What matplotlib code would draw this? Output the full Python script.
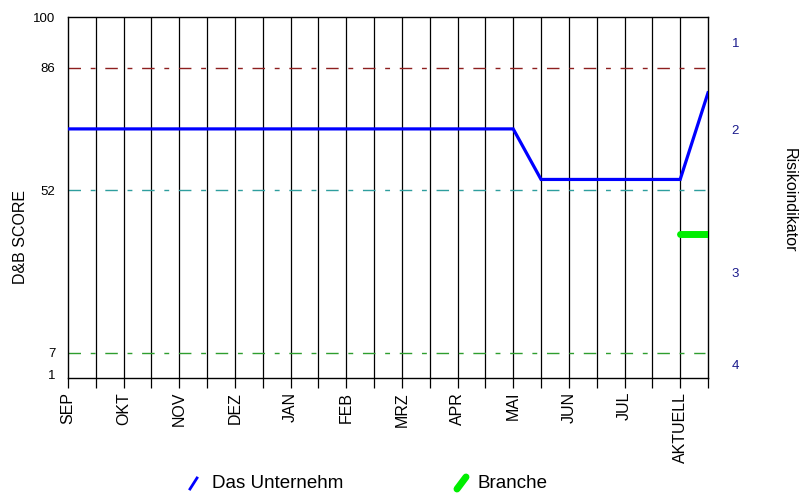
import matplotlib
matplotlib.use("Agg")
import matplotlib.pyplot as plt
from matplotlib.lines import Line2D

plt.rcParams["font.family"] = ["Liberation Sans", "DejaVu Sans"]

# data
months = ["SEP", "OKT", "NOV", "DEZ", "JAN", "FEB", "MRZ", "APR", "MAI", "JUN", "JUL", "AKTUELL"]
company_x = [0, 16, 17, 22, 23]
company_score = [69, 69, 55, 55, 79]
branche_x = [22, 23]
branche_score = [40, 40]
ref_levels = [86, 52, 7]
ref_colors = ["#8e1f1f", "#2e9e9e", "#2e9e2e"]
left_ticks = [1, 7, 52, 86, 100]
risk_labels = ["1", "2", "3", "4"]
risk_pos = [92.8, 68.7, 29.1, 3.7]

fig = plt.figure(figsize=(7.99, 4.93), dpi=100)
ax = fig.add_axes([68 / 799, 1 - 378 / 493, 640 / 799, 361 / 493])

n_slots = 2 * len(months) - 1
ax.set_xlim(0, n_slots)
ax.set_ylim(0, 100)

# vertical grid lines
for i in range(1, n_slots):
    ax.axvline(i, color="black", lw=0.9, zorder=1)

for lvl, col in zip(ref_levels, ref_colors):
    ax.plot([0, n_slots - 0.1], [lvl, lvl], color=col, lw=1.0,
            linestyle=(0, (9, 7, 3.5, 7)), zorder=2)

ax.plot(company_x, company_score, color="#0000ff", lw=2.3, zorder=4, solid_joinstyle="miter")
ax.plot(branche_x, branche_score, color="#00ee00", lw=5, solid_capstyle="round", zorder=5)

for s in ax.spines.values():
    s.set_linewidth(1.0)

ax.set_xticks(range(0, n_slots + 1))
ax.set_xticklabels([months[i // 2] if i % 2 == 0 and i // 2 < len(months) else "" for i in range(n_slots + 1)],
                   rotation=90, fontsize=11.5)
ax.tick_params(axis="x", direction="out", length=7, width=0.9, pad=3)
ax.set_yticks(left_ticks)
ax.set_yticklabels([str(t) for t in left_ticks], fontsize=9.5)
ax.tick_params(axis="y", length=0, pad=9)

ax2 = ax.twinx()
ax2.set_ylim(0, 100)
ax2.set_yticks(risk_pos)
ax2.set_yticklabels(risk_labels, fontsize=9.5, color="#1a1a8c")
ax2.tick_params(axis="y", length=0, pad=17)
for s in ax2.spines.values():
    s.set_visible(False)

fig.text(21 / 799, 1 - 237 / 493, "D&B SCORE", rotation=90, fontsize=11.5, ha="center", va="center")
fig.text(789 / 799, 1 - 200 / 493, "Risikoindikator", rotation=-90, fontsize=11.5, ha="center", va="center")

# legend
fig.add_artist(Line2D([190 / 799, 197 / 799], [1 - 489 / 493, 1 - 478 / 493],
                      color="#0000ff", lw=2))
fig.text(212 / 799, 1 - 484 / 493, "Das Unternehm", fontsize=13.5, va="center", ha="left")
fig.add_artist(Line2D([457 / 799, 466 / 799], [1 - 489 / 493, 1 - 477 / 493],
                      color="#00ee00", lw=5, solid_capstyle="round"))
fig.text(478 / 799, 1 - 484 / 493, "Branche", fontsize=13.5, va="center", ha="left")

fig.savefig("out.png", dpi=100)
